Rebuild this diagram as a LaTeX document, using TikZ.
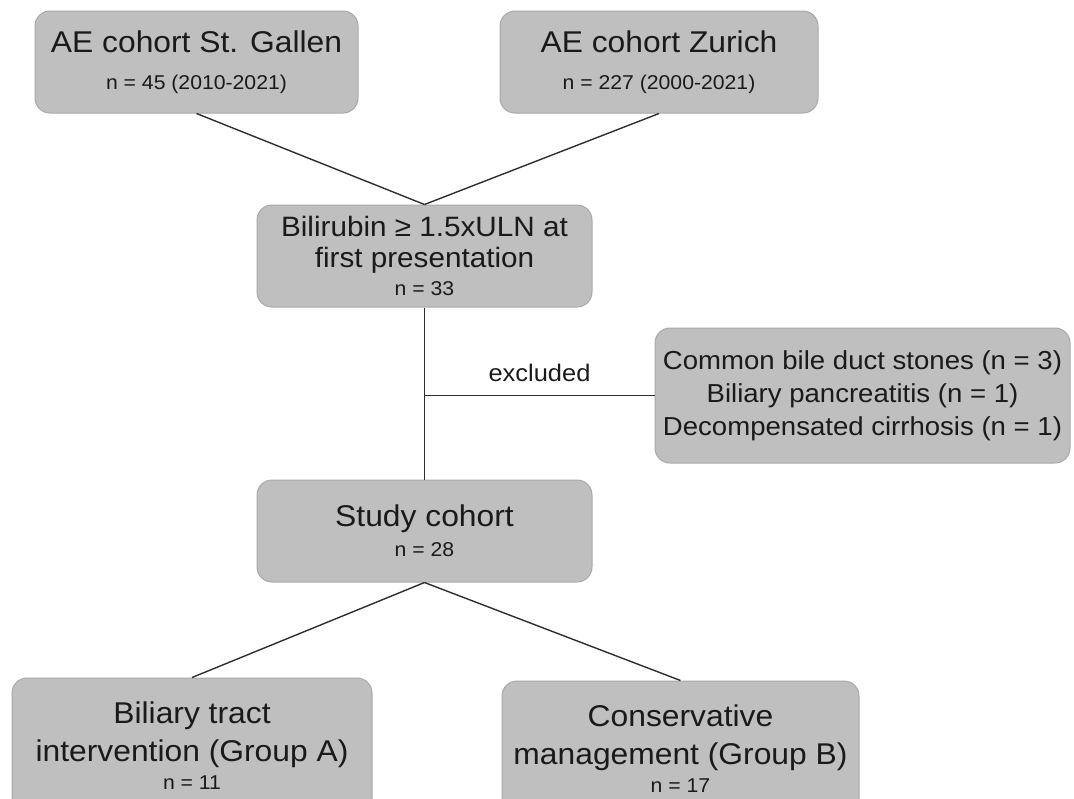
\documentclass[tikz,border=0pt]{standalone}
\usepackage{fontspec}
\setmainfont{Liberation Sans}[FakeStretch=1.06]
\usepackage{tikz}

\definecolor{boxgray}{HTML}{BFBFBF}
\definecolor{boxline}{HTML}{A9A9A9}
\definecolor{textgray}{HTML}{1A1A1A}
\definecolor{linegray}{HTML}{2E2E2E}

\newcommand{\countfont}{\fontsize{10}{18.5}\selectfont}

\tikzset{
    flowbox/.style={draw=boxline, fill=boxgray, line width=0.5pt,
        rounded corners=7.5pt, inner sep=0pt, align=center, text=textgray},
    link/.style={draw=linegray, line width=0.7pt}
}

\begin{document}
\begin{tikzpicture}[x=0.5pt,y=-0.5pt]
        \useasboundingbox (0,0) rectangle (1074,798);

        % the two AE cohorts
        \node[flowbox, minimum width=161.5pt, minimum height=51pt,
            font=\fontsize{15}{18.5}\selectfont] (stg) at (196.5,62)
            {AE cohort St. Gallen\\ \countfont n = 45 (2010-2021)};
        \node[flowbox, minimum width=159pt, minimum height=51pt,
            font=\fontsize{15}{18.5}\selectfont] (zur) at (659,62)
            {AE cohort Zurich\\ \countfont n = 227 (2000-2021)};

        % bilirubin at first presentation
        \node[flowbox, minimum width=167.5pt, minimum height=51pt,
            font=\fontsize{14}{15.5}\selectfont] (bil) at (424.5,256)
            {Bilirubin ≥ 1.5xULN at\\ first presentation\\[-1.5pt]
             \fontsize{10}{15}\selectfont n = 33};

        % excluded patients
        \node[flowbox, minimum width=207.5pt, minimum height=67.5pt,
            font=\fontsize{13}{16.5}\selectfont] (exc) at (862.5,395.5)
            {Common bile duct stones (n = 3)\\
             Biliary pancreatitis (n = 1)\\ Decompensated cirrhosis (n = 1)};

        % study cohort
        \node[flowbox, minimum width=167.5pt, minimum height=51pt,
            font=\fontsize{15}{15}\selectfont] (study) at (424.5,531)
            {Study cohort\\ \fontsize{10}{15}\selectfont n = 28};

        % the two groups
        \node[flowbox, minimum width=180pt, minimum height=68pt,
            font=\fontsize{15}{19}\selectfont] (grpa) at (192,746)
            {Biliary tract\\ intervention (Group A)\\[-5pt]
             \fontsize{10}{14}\selectfont n = 11};
        \node[flowbox, minimum width=178.5pt, minimum height=68pt,
            font=\fontsize{15}{19}\selectfont] (grpb) at (680.5,749)
            {Conservative\\ management (Group B)\\[-5pt]
             \fontsize{10}{14}\selectfont n = 17};

        % lines between the boxes
        \coordinate (split) at (bil.south |- exc.west);
        \draw[link] (stg.south) -- (bil.north);
        \draw[link] (zur.south) -- (bil.north);
        \draw[link] (bil.south) -- (study.north);
        \draw[link] (split) -- node[above=6.5pt, inner sep=0pt, text=textgray,
            font=\fontsize{12}{14}\selectfont] (exclabel) {excluded} (exc.west);
        \draw[link] (study.south) -- (grpa.north);
        \draw[link] (study.south) -- (grpb.north);
    \end{tikzpicture}
\end{document}
